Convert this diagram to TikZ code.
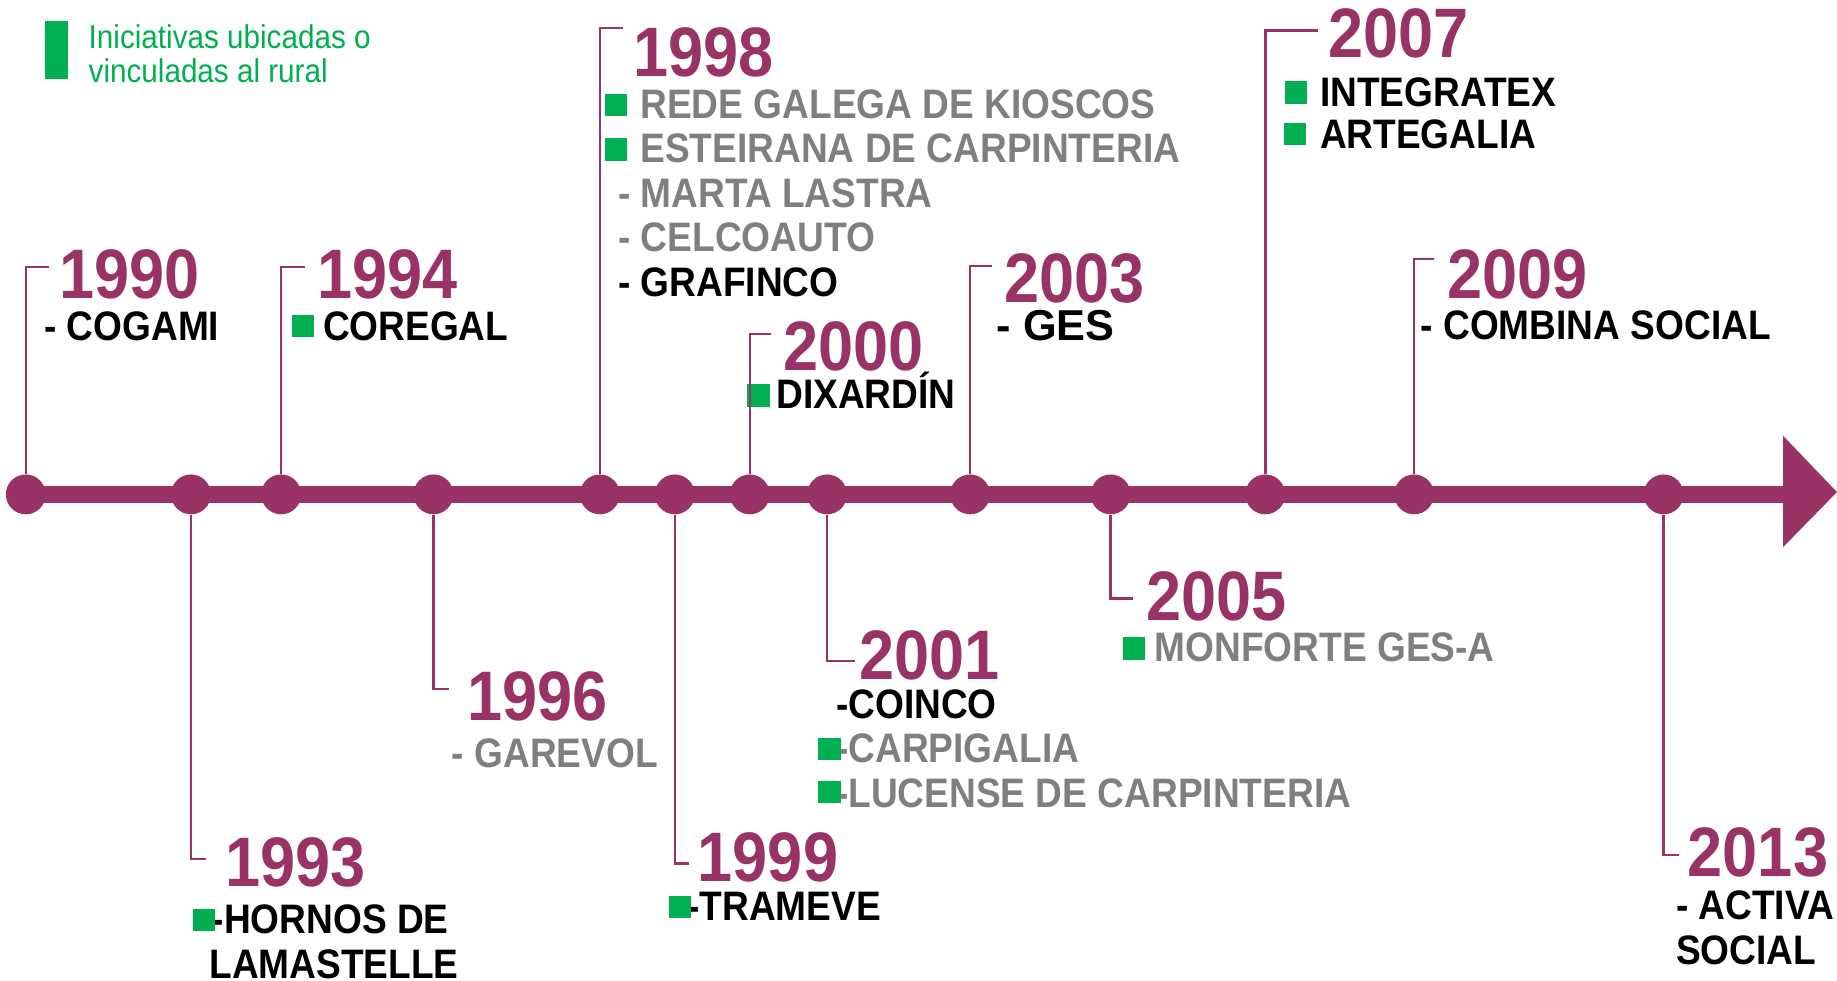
\documentclass[tikz,border=0pt]{standalone}
\usepackage{fontspec}
\setmainfont{Liberation Sans}[FakeStretch=0.9]
\newfontfamily\widefont{Liberation Sans}
\definecolor{plum}{HTML}{993366}
\definecolor{rural}{HTML}{00B050}
\definecolor{dimtext}{HTML}{7F7F7F}
\tikzset{
  yr/.style={anchor=base west,inner sep=0,text depth=0pt,text=plum,font=\fontsize{17}{17}\selectfont\bfseries},
  entry/.style={anchor=base west,inner sep=0,text height=0.7em,text depth=0pt,font=\fontsize{10}{10}\selectfont\bfseries},
  gsq/.style={fill=rural,minimum size=0.19cm,inner sep=0},
  yeardot/.style={circle,fill=plum,minimum size=0.34cm,inner sep=0},
  stemline/.style={plum,line width=0.6pt},
}

\begin{document}
\begin{tikzpicture}[x=0.01cm,y=-0.01cm]
      \useasboundingbox (0,0) rectangle (1568,837);
      \path
        (48,42.5) node[fill=rural,minimum width=0.2cm,minimum height=0.49cm,inner sep=0] (key){}
        (75,20) node[anchor=north west,align=left,inner sep=0,text=rural,font=\fontsize{8}{8.25}\selectfont] (keytext){Iniciativas ubicadas o\\vinculadas al rural};
      \path
        (22,422) node[yeardot] (d90){}
        (163,422) node[yeardot] (d93){}
        (240,422) node[yeardot] (d94){}
        (370,422) node[yeardot] (d96){}
        (512,422) node[yeardot] (d98){}
        (576,422) node[yeardot] (d99){}
        (640,422) node[yeardot] (d00){}
        (706,422) node[yeardot] (d01){}
        (828,422) node[yeardot] (d03){}
        (948,422) node[yeardot] (d05){}
        (1080,422) node[yeardot] (d07){}
        (1207,422) node[yeardot] (d09){}
        (1420,422) node[yeardot] (d13){};
      \coordinate (head) at (1522,422);
      \draw[plum,line width=0.15cm] (d90.center) -- (head);
      \fill[plum] (1522,372) -- (1568,420) -- (1522,467) -- cycle;
      \path
        (50,255) node[yr] (y90){1990}
        (270,255) node[yr] (y94){1994}
        (540,65) node[yr] (y98){1998}
        (668,316) node[yr] (y00){2000}
        (857,258) node[yr] (y03){2003}
        (1133,49) node[yr] (y07){2007}
        (1235,255) node[yr] (y09){2009}
        (192,757) node[yr] (y93){1993}
        (398,615) node[yr] (y96){1996}
        (595,752) node[yr] (y99){1999}
        (733,580) node[yr] (y01){2001}
        (978,530) node[yr] (y05){2005}
        (1440,748) node[yr] (y13){2013};
      \path
        (37,291) node[entry] (i90){- COGAMI}
        (275,291) node[entry] (i94){COREGAL}
        (546,101) node[entry,text=dimtext] (i98a){REDE GALEGA DE KIOSCOS}
        (546,139) node[entry,text=dimtext] (i98b){ESTEIRANA DE CARPINTERIA}
        (527,177) node[entry,text=dimtext] (i98c){- MARTA LASTRA}
        (527,215) node[entry,text=dimtext] (i98d){- CELCOAUTO}
        (527,253) node[entry] (i98e){- GRAFINCO}
        (662,349) node[entry] (i00){DIXARDÍN}
        (850,291) node[entry,font=\widefont\fontsize{10.5}{10.5}\selectfont\bfseries] (i03){- GES}
        (1126,91) node[entry] (i07a){INTEGRATEX}
        (1126,127) node[entry] (i07b){ARTEGALIA}
        (1212,290) node[entry] (i09){- COMBINA SOCIAL}
        (180,797) node[entry] (i93a){-HORNOS DE}
        (178,835) node[entry] (i93b){LAMASTELLE}
        (385,655) node[entry,text=dimtext] (i96){- GAREVOL}
        (586,786) node[entry] (i99){-TRAMEVE}
        (713,613) node[entry] (i01a){-COINCO}
        (713,651) node[entry,text=dimtext] (i01b){-CARPIGALIA}
        (713,689) node[entry,text=dimtext] (i01c){-LUCENSE DE CARPINTERIA}
        (985,565) node[entry,text=dimtext] (i05){MONFORTE GES-A}
        (1430,785) node[entry] (i13a){- ACTIVA}
        (1430,823) node[entry] (i13b){SOCIAL};
      \path
        (258.5,278.5) node[gsq] (s94){}
        (525.5,89.5) node[gsq] (s98a){}
        (525.5,127.5) node[gsq] (s98b){}
        (647.5,337.5) node[gsq] (s00){}
        (1106.5,79) node[gsq] (s07a){}
        (1105.5,114.5) node[gsq] (s07b){}
        (174,785) node[gsq] (s93){}
        (580.5,774) node[gsq] (s99){}
        (708,639.5) node[gsq] (s01b){}
        (708,676) node[gsq] (s01c){}
        (968,553.5) node[gsq] (s05){};
      \coordinate (e90) at (42,228);
      \coordinate (e94) at (260,228);
      \coordinate (e98) at (532,24);
      \coordinate (e00) at (658,285);
      \coordinate (e03) at (847,227);
      \coordinate (e07) at (1125,26);
      \coordinate (e09) at (1224,221);
      \coordinate (e93) at (176,733);
      \coordinate (e96) at (383,588);
      \coordinate (e99) at (588,737);
      \coordinate (e01) at (730,564);
      \coordinate (e05) at (967,511);
      \coordinate (e13) at (1433,730);
      \begin{scope}[stemline]
        \foreach \n in {90,94,98,00,03,07,09} \draw (d\n.north) |- (e\n);
        \foreach \n in {93,96,99,01,05,13} \draw (d\n.south) |- (e\n);
      \end{scope}
    \end{tikzpicture}
\end{document}
